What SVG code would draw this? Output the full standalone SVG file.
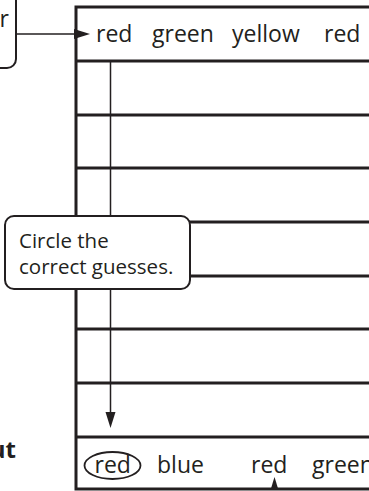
<svg xmlns="http://www.w3.org/2000/svg" width="369" height="491" viewBox="0 0 369 491">
<style>
.t{font-family:"Open Sans","Noto Sans",sans-serif;fill:#231f20}
.row{font-size:23px}
.call{font-size:20.5px}
.hl{stroke:#231f20;stroke-width:3;fill:none}
.thin{stroke:#231f20;stroke-width:1.5;fill:none}
.box{fill:#fff;stroke:#231f20;stroke-width:2}
.ah{fill:#231f20}
</style>
<rect x="0" y="0" width="369" height="491" fill="#fff"/>
<g id="table">
<path class="hl" d="M76 7H369M76 61H369M76 115H369M76 168H369M76 222H369M76 276H369M76 329H369M76 383H369M76 437H369M76 489H369M76 5.5V490.5"/>
</g>
<g id="connectors">
<path class="thin" d="M16 34H78"/>
<polygon class="ah" points="90,34 74,29 74,39"/>
<path class="thin" d="M110.5 61V414"/>
<polygon class="ah" points="110.5,428 105.5,412 115.5,412"/>
<polygon class="ah" points="274.5,477 270.5,490 278.5,490"/>
</g>
<g id="top-callout">
<rect class="box" x="-20" y="-10" width="36" height="78" rx="9"/>
<text class="t row" x="9" y="27" text-anchor="end">r</text>
</g>
<g id="guesses-row">
<text class="t row" x="96" y="42">red</text>
<text class="t row" x="152" y="42">green</text>
<text class="t row" x="232" y="42">yellow</text>
<text class="t row" x="324" y="42">red</text>
</g>
<g id="circle-callout">
<rect class="box" x="5" y="216" width="185" height="73" rx="9"/>
<text class="t call" x="19" y="248">Circle the</text>
<text class="t call" x="19" y="274">correct guesses.</text>
</g>
<g id="answer-row">
<ellipse class="thin" cx="112.5" cy="465.5" rx="28" ry="13.5" style="stroke-width:1.8"/>
<text class="t row" x="94.5" y="473">red</text>
<text class="t row" x="157" y="473">blue</text>
<text class="t row" x="251" y="473">red</text>
<text class="t row" x="312" y="473">green</text>
</g>
<g id="side-label">
<text class="t" x="16" y="458" text-anchor="end" style="font-size:24px;font-weight:bold">ut</text>
</g>
</svg>
